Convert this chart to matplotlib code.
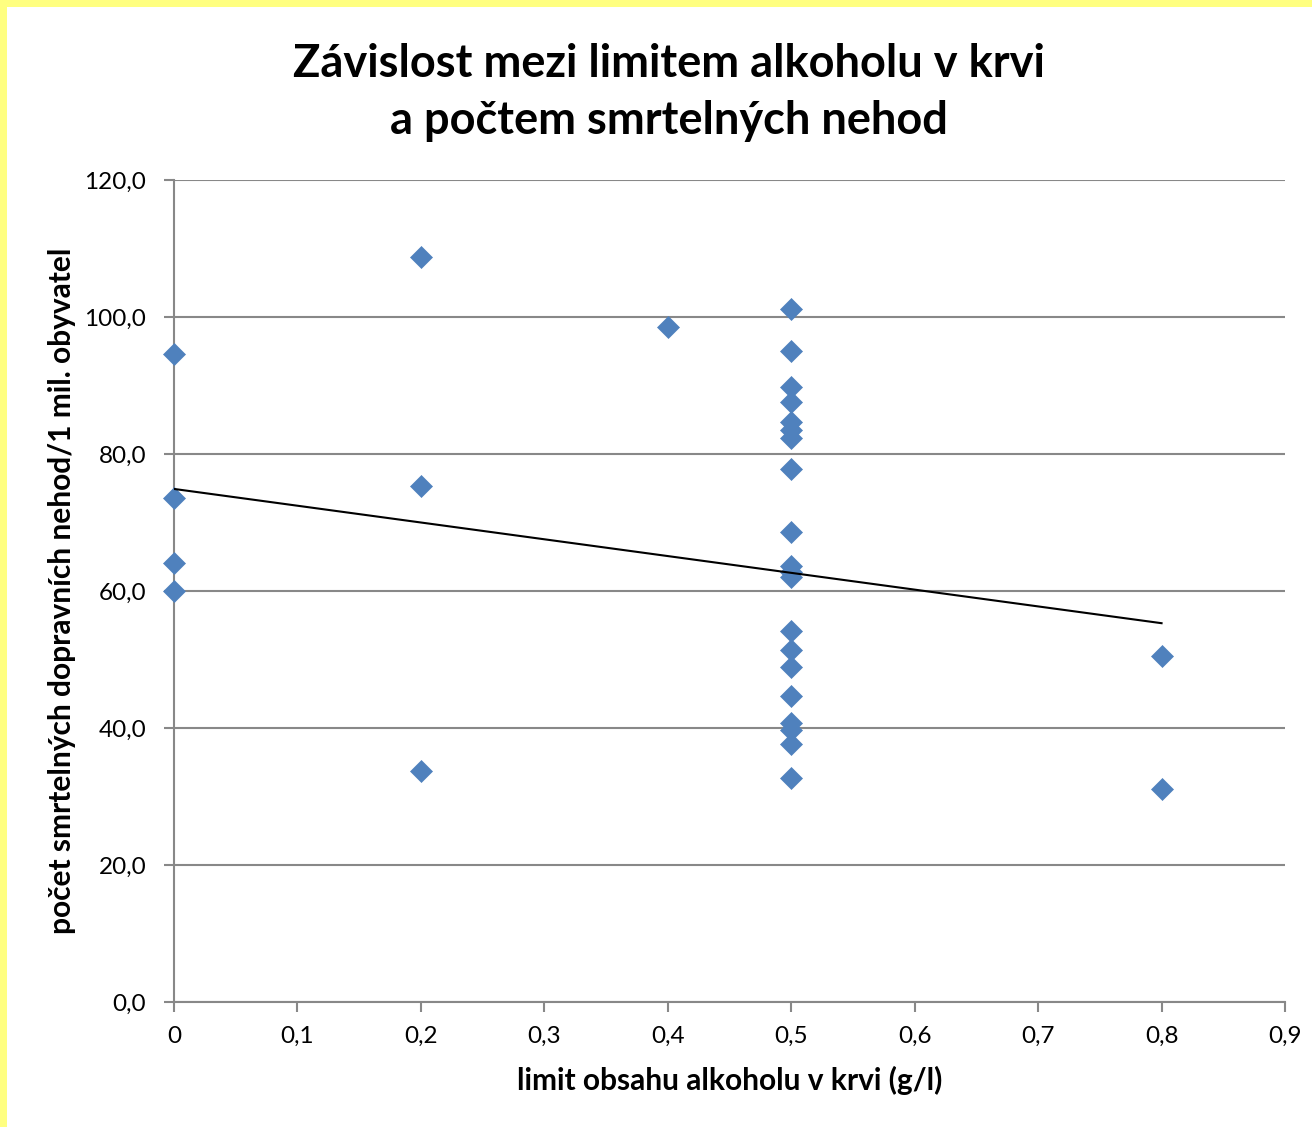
import numpy as np
import matplotlib.pyplot as plt
from matplotlib.patches import Rectangle

# limit alkoholu (g/l) a pocet smrtelnych nehod na 1 mil. obyvatel
limit_0 = [94.6, 73.6, 64.1, 60.0]
limit_02 = [108.8, 75.3, 33.7]
limit_04 = [98.5]
limit_05 = [101.2, 95.1, 89.8, 87.6, 84.7, 83.5, 82.3, 77.8, 68.6, 63.6, 62.8,
            62.0, 54.2, 51.4, 48.9, 44.7, 40.7, 39.7, 37.7, 32.7]
limit_08 = [50.5, 31.1]

# linear trend as drawn in the source chart
trend_intercept = 74.9
trend_slope = -24.5
trend_x = [0.0, 0.8]

groups = [(0.0, limit_0), (0.2, limit_02), (0.4, limit_04), (0.5, limit_05), (0.8, limit_08)]
x = np.concatenate([[g] * len(v) for g, v in groups])
y = np.concatenate([v for g, v in groups])

x_ticks = np.arange(0, 0.91, 0.1)
y_ticks = np.arange(0, 121, 20)

plt.rcParams['font.family'] = ['Lato', 'DejaVu Sans']

fig = plt.figure(figsize=(13.12, 11.27), dpi=100)
# yellow frame on top and left edge
fig.patches.append(Rectangle((0, 0), 1, 1, transform=fig.transFigure,
                             facecolor='#FFFF80', edgecolor='none', zorder=-2))
fig.patches.append(Rectangle((7 / 1312, 0), 1, 1 - 7 / 1127, transform=fig.transFigure,
                             facecolor='white', edgecolor='none', zorder=-1))

ax = fig.add_axes([174 / 1312, 125 / 1127, 1111 / 1312, 822 / 1127])

ax.scatter(x, y, marker='D', s=125, color='#4F81BD', edgecolors='#4F81BD',
           linewidths=0.5, zorder=3, clip_on=False)

tx = np.array(trend_x)
ax.plot(tx, trend_intercept + trend_slope * tx, color='black', lw=1.5, zorder=4)

ax.set_xlim(0, 0.9)
ax.set_ylim(0, 120)
ax.set_xticks(x_ticks)
ax.set_yticks(y_ticks)
ax.set_xticklabels(['0'] + [f'{t:.1f}'.replace('.', ',') for t in x_ticks[1:]])
ax.set_yticklabels([f'{t:.1f}'.replace('.', ',') for t in y_ticks])
ax.tick_params(axis='both', colors='#888888', labelcolor='black', labelsize=17.5,
               length=7, width=1.5, direction='out')
ax.tick_params(axis='x', pad=10)
ax.tick_params(axis='y', pad=13)

ax.grid(axis='y', color='#888888', lw=1.5)
ax.set_axisbelow(True)
for s in ['top', 'right']:
    ax.spines[s].set_visible(False)
for s in ['left', 'bottom']:
    ax.spines[s].set_color('#888888')
    ax.spines[s].set_linewidth(1.5)

ax.set_xlabel('limit obsahu alkoholu v krvi (g/l)', fontsize=21.5, fontweight='bold', labelpad=14)
ax.set_ylabel('počet smrtelných dopravních nehod/1 mil. obyvatel', fontsize=21.5,
              fontweight='bold', labelpad=6)

fig.text(0.51, 0.962, 'Závislost mezi limitem alkoholu v krvi\na počtem smrtelných nehod',
         ha='center', va='top', fontsize=32.5, fontweight='bold', linespacing=1.45)

fig.savefig('out.png', dpi=100)
